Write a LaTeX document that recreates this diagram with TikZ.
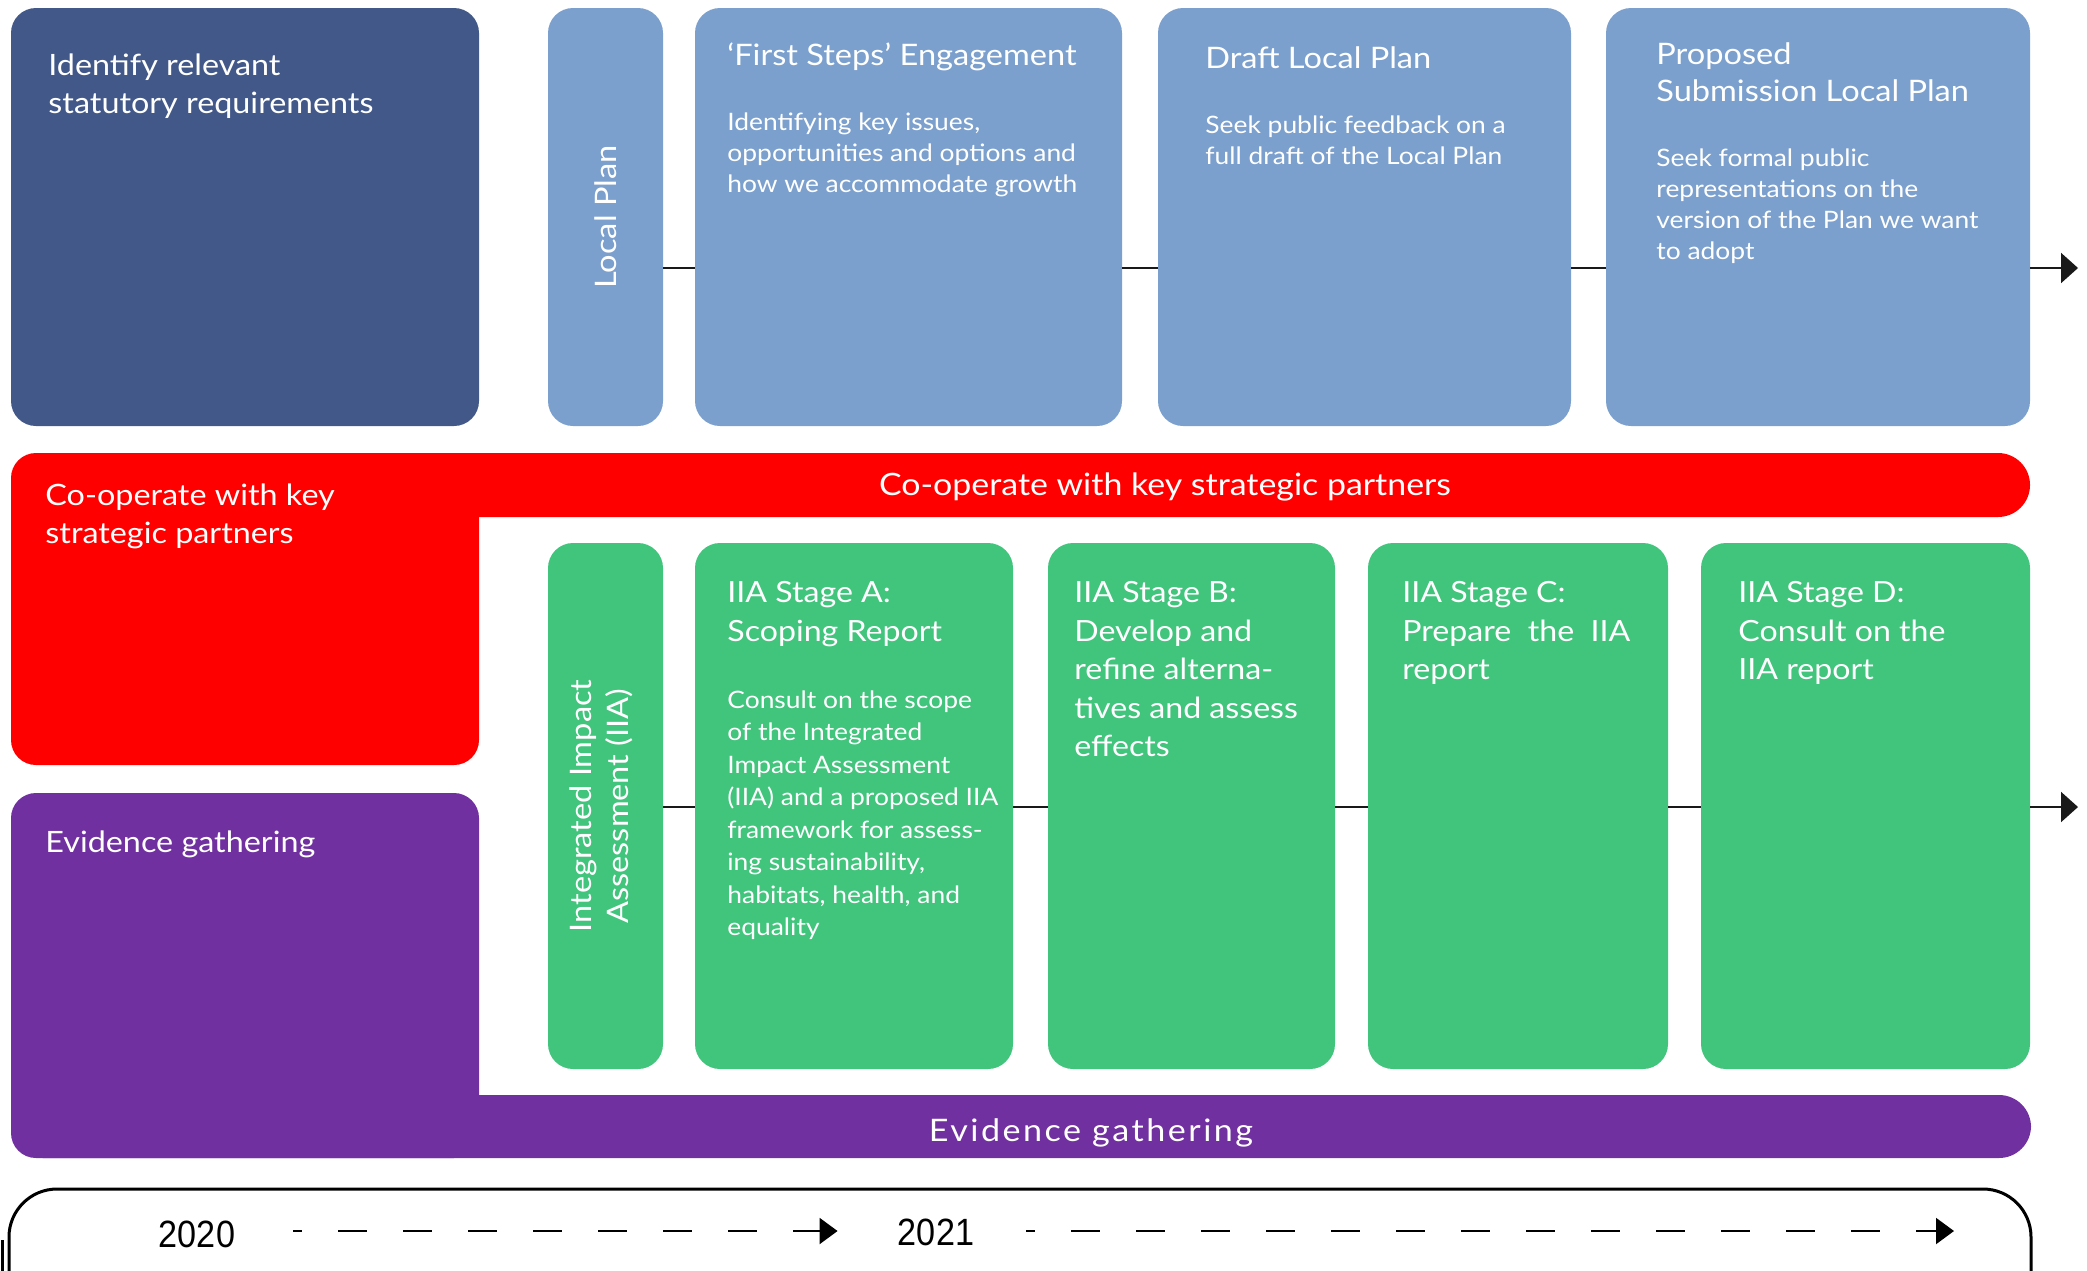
\documentclass[tikz,border=0pt]{standalone}
\usepackage{fontspec}
\setmainfont{Lato}[FakeStretch=1.1]
\newfontfamily\yearfont[FakeStretch=0.9]{Liberation Sans}
\usetikzlibrary{fit,arrows.meta}
\definecolor{darkblue}{HTML}{425889}
\definecolor{lightblue}{HTML}{7BA0CD}
\definecolor{redc}{HTML}{FF0000}
\definecolor{greenc}{HTML}{41C47C}
\definecolor{purplec}{HTML}{7030A0}
\newcommand\bigsz{\fontsize{14.7pt}{19.3pt}\selectfont}
\newcommand\titlesz{\fontsize{14.8pt}{18.5pt}\selectfont}
\newcommand\stagesz{\fontsize{14.6pt}{19.25pt}\selectfont}
\newcommand\bodysz{\fontsize{12pt}{15.5pt}\selectfont}
\newcommand\gbodysz{\fontsize{12pt}{16.25pt}\selectfont}
\tikzset{
  boxshape/.style={inner sep=0pt, outer sep=0pt, rounded corners=12.5pt, draw=none},
  bluebox/.style={boxshape, fill=lightblue},
  greenbox/.style={boxshape, fill=greenc},
  txt/.style={anchor=north west, inner sep=0pt, align=left, text=white},
  bigtxt/.style={txt, font=\bigsz},
  ttl/.style={txt, font=\titlesz},
  stg/.style={txt, font=\stagesz},
  bdy/.style={txt, font=\bodysz},
  gbdy/.style={txt, font=\gbodysz},
  bandtxt/.style={anchor=base, inner sep=0pt, text=white, font=\fontsize{15.4pt}{19pt}\selectfont},
  rottxt/.style={inner sep=0pt, rotate=90, align=center, text=white, font=\titlesz},
  conn/.style={line width=1pt, draw=black!90},
  connarrow/.style={conn, -{Triangle[length=8.5pt,width=15pt]}},
  yeartxt/.style={anchor=base, inner sep=0pt, font=\yearfont\fontsize{19pt}{22pt}\selectfont},
  dasharrow/.style={line width=1pt, dash pattern=on 14.5pt off 18pt, dash phase=10pt, -{Triangle[length=9pt,width=13pt]}},
}
\begin{document}
\begin{tikzpicture}[x=0.5pt,y=-0.5pt]
\useasboundingbox (0,0) rectangle (2087,1270);

% ---- top-left dark box
\node[boxshape, fill=darkblue, fit={(11,8) (479,426)}] (stat) {};
\node[bigtxt] (stattxt) at (48,53) {Identify relevant\\statutory requirements};

% ---- red L-shape
\fill[redc, rounded corners=12.5pt] (11,453) rectangle (479,765);
\fill[redc, rounded corners=16pt] (11,453) rectangle (2030,517);
\node[bigtxt] (coptxt) at (45,483) {Co-operate with key\\strategic partners};
\node[bandtxt] (copband) at (1165,495) {Co-operate with key strategic partners};

% ---- purple L-shape
\fill[purplec, rounded corners=12.5pt] (11,793) rectangle (479,1158);
\fill[purplec, rounded corners=16pt] (11,1095) rectangle (2031,1158);
\node[bigtxt] (evtxt) at (45,830) {Evidence gathering};
\node[bandtxt, font=\fontsize{15.5pt}{19pt}\selectfont\addfontfeature{LetterSpace=8}] (evband) at (1091,1141) {Evidence gathering};

% ---- Local Plan row
\node[bluebox, fit={(548,8) (663,426)}] (lp) {};
\node[rottxt] (lptxt) at (lp.center) {Local Plan};
\node[bluebox, fit={(695,8) (1122,426)}] (fs) {};
\node[ttl] (fstitle) at (727,42) {‘First Steps’ Engagement};
\node[bdy] (fsbody) at (727,112) {Identifying key issues,\\opportunities and options and\\how we accommodate growth};
\node[bluebox, fit={(1158,8) (1571,426)}] (dlp) {};
\node[ttl] (dlptitle) at (1205,46) {Draft Local Plan};
\node[bdy] (dlpbody) at (1205,115) {Seek public feedback on a\\full draft of the Local Plan};
\node[bluebox, fit={(1606,8) (2030,426)}] (pslp) {};
\node[ttl] (pslptitle) at (1656,42) {Proposed\\Submission Local Plan};
\node[bdy] (pslpbody) at (1656,148) {Seek formal public\\representations on the\\version of the Plan we want\\to adopt};

\coordinate (toprow) at (0,268);
\coordinate (topend) at (2078,268);
\draw[conn] (lp.east |- toprow) -- (fs.west |- toprow);
\draw[conn] (fs.east |- toprow) -- (dlp.west |- toprow);
\draw[conn] (dlp.east |- toprow) -- (pslp.west |- toprow);
\draw[connarrow] (pslp.east |- toprow) -- (topend);

% ---- IIA row
\node[greenbox, fit={(548,543) (663,1069)}] (iia) {};
\node[rottxt] (iiatxt) at (601,806) {Integrated Impact\\Assessment (IIA)};
\node[greenbox, fit={(695,543) (1013,1069)}] (sa) {};
\node[stg] (satitle) at (727,581) {IIA Stage A:\\Scoping Report};
\node[gbdy] (sabody) at (727,690) {Consult on the scope\\of the Integrated\\Impact Assessment\\(IIA) and a proposed IIA\\framework for assess-\\ing sustainability,\\habitats, health, and\\equality};
\node[greenbox, fit={(1048,543) (1335,1069)}] (sb) {};
\node[stg] (sbtitle) at (1074,581) {IIA Stage B:\\Develop and\\refine alterna-\\tives and assess\\effects};
\node[greenbox, fit={(1368,543) (1668,1069)}] (sc) {};
\node[stg] (sctitle) at (1402,581) {IIA Stage C:\\Prepare\ \ the\ \ IIA\\report};
\node[greenbox, fit={(1701,543) (2030,1069)}] (sd) {};
\node[stg] (sdtitle) at (1738,581) {IIA Stage D:\\Consult on the\\IIA report};

\coordinate (botend) at (2078,807);
\coordinate (botrow) at (0,807);
\draw[conn] (iia.east |- botrow) -- (sa.west |- botrow);
\draw[conn] (sa.east |- botrow) -- (sb.west |- botrow);
\draw[conn] (sb.east |- botrow) -- (sc.west |- botrow);
\draw[conn] (sc.east |- botrow) -- (sd.west |- botrow);
\draw[connarrow] (sd.east |- botrow) -- (botend);

% ---- timeline
\begin{scope}
\clip (0,0) rectangle (2087,1270);
\draw[line width=1.5pt, rounded corners=24pt] (9,1189) rectangle (2031,1340);
\draw[line width=1.5pt] (2,1240) -- (2,1272);
\end{scope}
\node[yeartxt] (y2020) at (197,1247) {2020};
\node[yeartxt] (y2021) at (936,1245) {2021};
\coordinate (tlend) at (1954,1231);
\draw[dasharrow] ([xshift=29pt]y2020.east |- tlend) -- ([xshift=-30pt]y2021.west |- tlend);
\draw[dasharrow] ([xshift=26pt]y2021.east |- tlend) -- (tlend);
\end{tikzpicture}
\end{document}
